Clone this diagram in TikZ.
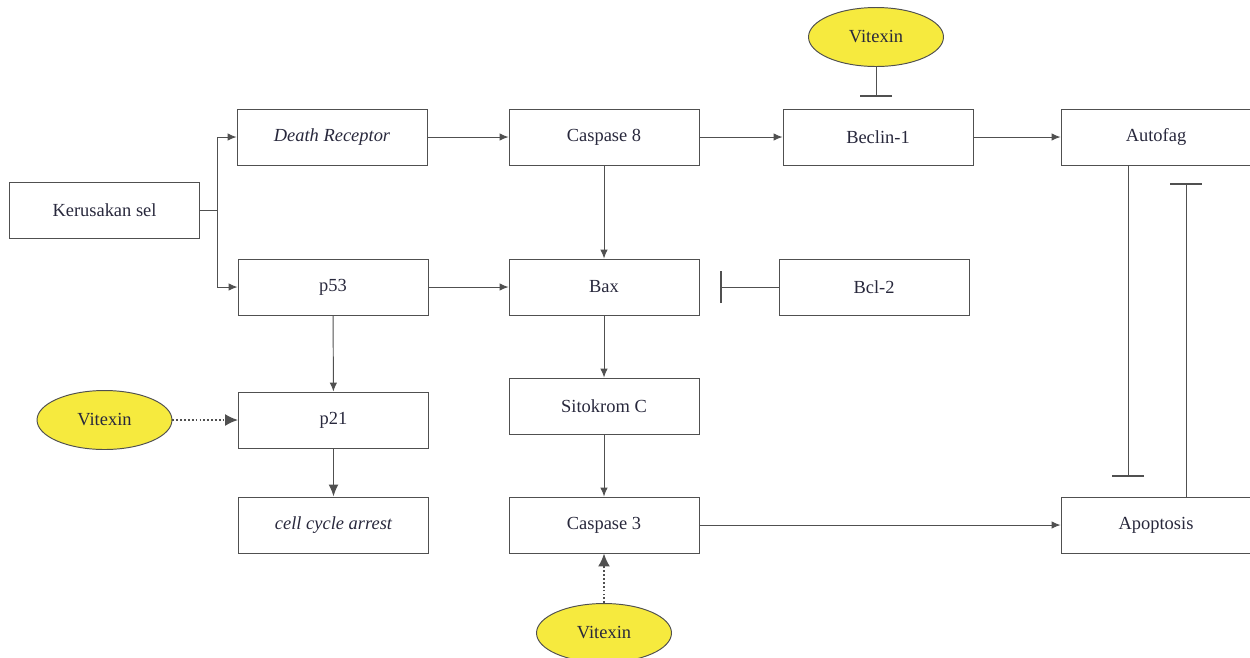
\documentclass[tikz,border=0pt]{standalone}
\usepackage{fontspec}
\setmainfont{Liberation Serif}
\usetikzlibrary{arrows.meta,shapes.geometric}
\definecolor{linegray}{RGB}{80,80,80}
\definecolor{txt}{RGB}{40,40,60}
\definecolor{vyellow}{RGB}{246,234,62}
\tikzset{
  box/.style={draw=linegray,line width=0.55pt,minimum width=3.8cm,minimum height=1.12cm,inner sep=0pt,text=txt,font=\fontsize{10.5}{12}\selectfont},
  vit/.style={ellipse,draw=linegray,line width=0.55pt,fill=vyellow,minimum width=2.7cm,minimum height=1.18cm,inner sep=0pt,text=txt,font=\fontsize{10.5}{12}\selectfont},
  arr/.style={draw=linegray,line width=0.55pt,-{Latex[length=1.8mm,width=1.5mm]}},
  thickarr/.style={draw=linegray,line width=0.9pt,-{Latex[length=2.4mm,width=2mm]}},
  dotarr/.style={draw=linegray,line width=1pt,dash pattern=on 1pt off 1.2pt,-{Latex[length=2.6mm,width=2.4mm]}},
  inhib/.style={draw=linegray,line width=0.55pt,-{Bar[width=0.64cm,line width=1.1pt]}}
}
\begin{document}
\begin{tikzpicture}[x=0.02cm,y=-0.02cm]
\useasboundingbox (0,0) rectangle (1250,657);
% boxes
\node[box] (ker) at (104.5,210) {Kerusakan sel};
\node[box] (dr) at (332,137) {\itshape Death Receptor};
\node[box] (p53) at (333,287) {p53};
\node[box] (p21) at (333.5,420) {p21};
\node[box] (cca) at (333.5,525) {\itshape cell cycle arrest};
\node[box] (c8) at (604,137) {Caspase 8};
\node[box] (bax) at (604,287) {Bax};
\node[box] (sit) at (604,406) {Sitokrom C};
\node[box] (c3) at (604,525) {Caspase 3};
\node[box] (bec) at (878,137) {Beclin-1};
\node[box] (bcl) at (874,287) {Bcl-2};
\node[box] (aut) at (1156,137) {Autofag};
\node[box] (apo) at (1156,525) {Apoptosis};
% ellipses
\node[vit] (vt) at (876,37) {Vitexin};
\node[vit] (vl) at (104.5,420) {Vitexin};
\node[vit] (vb) at (604,633) {Vitexin};
% branching from Kerusakan sel
\draw[arr] (ker.east) -- ++(18,0) |- (dr.west);
\draw[arr] (ker.east) -- ++(18,0) |- (p53.west);
% horizontal arrows
\draw[arr] (dr) -- (c8);
\draw[arr] (c8) -- (bec);
\draw[arr] (bec) -- (aut);
\draw[arr] (p53) -- (bax);
\draw[arr] (c3) -- (apo);
% vertical arrows
\draw[arr] (c8) -- (bax);
\draw[arr] (bax) -- (sit);
\draw[arr] (sit) -- (c3);
\draw[arr] (p53) -- (p21);
\draw[thickarr] (p21) -- (cca);
% dotted arrows
\draw[dotarr] (vl) -- (p21);
\draw[dotarr] (vb) -- (c3);
% inhibition
\coordinate (ib1) at (876,97);
\draw[inhib] (vt.south) -- (ib1);
\coordinate (ib2) at (720,287);
\draw[inhib] (bcl.west) -- (ib2);
\coordinate (ib3) at (1128,477);
\draw[inhib] (ib3 |- aut.south) -- (ib3);
\coordinate (ib4) at (1186,183);
\draw[inhib] (ib4 |- apo.north) -- (ib4);
\end{tikzpicture}
\end{document}
